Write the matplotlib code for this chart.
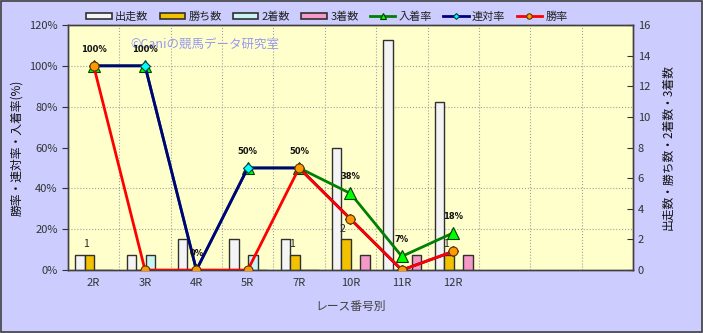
import matplotlib
matplotlib.use("Agg")
import matplotlib.pyplot as plt
from matplotlib.patches import Rectangle
import numpy as np

plt.rcParams['font.family'] = ['Noto Sans CJK JP', 'DejaVu Sans']

categories = ['2R', '3R', '4R', '5R', '7R', '10R', '11R', '12R', '', '', '']
runs = [1, 1, 2, 2, 2, 8, 15, 11]          # 出走数
wins = [1, 0, 0, 0, 1, 2, 0, 1]            # 勝ち数
second = [0, 1, 0, 1, 0, 0, 0, 0]          # 2着数
third = [0, 0, 0, 0, 0, 1, 1, 1]           # 3着数
place_rate = [100, 100, 0, 50, 50, 37.5, 6.7, 18.2]   # 入着率
quinella_rate = [100, 100, 0, 50, 50, 25, 0, 9.1]    # 連対率
win_rate = [100, 0, 0, 0, 50, 25, 0, 9.1]           # 勝率
place_labels = ['100%', '100%', '0%', '50%', '50%', '38%', '7%', '18%']

fig = plt.figure(figsize=(7.03, 3.33), dpi=100, facecolor='#CCCCFF')
fig.patches.append(Rectangle((0.0015, 0.003), 0.997, 0.994, transform=fig.transFigure,
                             fill=False, edgecolor='#404040', linewidth=1.2))

ax2 = fig.add_axes([0.0967, 0.189, 0.8037, 0.736])
ax = ax2.twinx()
ax.yaxis.tick_left()
ax.yaxis.set_label_position('left')
ax2.yaxis.tick_right()
ax2.yaxis.set_label_position('right')
ax.set_zorder(ax2.get_zorder() + 1)
ax.patch.set_visible(False)
ax2.set_facecolor('#FFFFCC')

n = len(runs)
x = np.arange(n)
w = 0.185
bar_specs = [(runs, '#F4F4F4', '出走数'), (wins, '#F2C200', '勝ち数'),
             (second, '#C8F4F4', '2着数'), (third, '#F59AC8', '3着数')]
handles = []
for i, (vals, col, lab) in enumerate(bar_specs):
    off = (i - 1.5) * w + 0.01
    ax2.bar(x + off, vals, width=w, color=col, edgecolor='#303030', linewidth=1.0,
            zorder=3)
    handles.append(Rectangle((0, 0), 1, 1, facecolor=col, edgecolor='#303030', linewidth=1.2, label=lab))

for xi, v in zip(x, wins):
    if v > 0:
        ax2.annotate(str(v), (xi - 0.5 * w, v), xytext=(-2, 4), textcoords='offset points',
                     ha='center', va='bottom', fontsize=7.5, color='#222222')

l1, = ax.plot(x, place_rate, color='#008000', lw=2, marker='^', ms=8,
              mfc='#00FF00', mec='#004000', mew=0.8, label='入着率', zorder=4)
l2, = ax.plot(x, quinella_rate, color='#000080', lw=2, marker='D', ms=5,
              mfc='#00FFFF', mec='#004040', mew=0.8, label='連対率', zorder=5)
l3, = ax.plot(x, win_rate, color='#FF0000', lw=2, marker='o', ms=6.5,
              mfc='#FF9900', mec='#603000', mew=0.8, label='勝率', zorder=6)
for xi, v, t in zip(x, place_rate, place_labels):
    ax.annotate(t, (xi, v), xytext=(0, 12), textcoords='offset points', ha='center',
                va='center', fontsize=6, fontweight='bold', color='#111111',
                family='DejaVu Sans', zorder=7)

ax.set_xlim(-0.5, len(categories) - 0.5)
ax.set_ylim(0, 120)
ax2.set_ylim(0, 16)
ax.set_yticks(np.arange(0, 121, 20))
ax.set_yticklabels([f'{v}%' for v in range(0, 121, 20)])
ax2.set_yticks(np.arange(0, 17, 2))
ax2.set_xticks(np.arange(len(categories)))
ax2.set_xticklabels(categories)
ax2.set_xticks(np.arange(0.5, len(categories) - 0.5, 1), minor=True)
ax2.set_yticks([v * 16 / 120 for v in range(20, 120, 20)], minor=True)
ax2.tick_params(axis='x', which='both', length=0, labelsize=8, colors='#333333', pad=6)
ax2.tick_params(axis='y', which='minor', length=0)
ax2.tick_params(axis='y', which='major', labelsize=8, colors='#333333', length=4, direction='in')
ax.tick_params(axis='y', labelsize=8, colors='#333333', length=4)
ax2.grid(True, which='minor', color='#A0A0A0', linestyle=':', linewidth=0.8, zorder=0)
ax2.set_axisbelow(True)
for a in (ax, ax2):
    for s in a.spines.values():
        s.set_color('#404040')
        s.set_linewidth(1.0)

ax.set_ylabel('勝率・連対率・入着率(%)', fontsize=8.5, color='#111111', labelpad=4)
ax2.set_ylabel('出走数・勝ち数・2着数・3着数', fontsize=8.5, color='#111111', labelpad=8)
ax2.set_xlabel('レース番号別', fontsize=8.5, color='#444444', labelpad=8)

ax.text(0.11, 0.92, '©Caniの競馬データ研究室', transform=ax.transAxes, fontsize=9,
        color='#9999EE', ha='left', va='center', zorder=1)

handles += [l1, l2, l3]
fig.legend(handles=handles, loc='center', bbox_to_anchor=(0.465, 0.95), ncol=7,
           frameon=False, fontsize=8, handlelength=2.3, handleheight=0.45,
           handletextpad=0.3, columnspacing=1.0, labelcolor='#222222', markerscale=0.6)

fig.savefig('out.png', dpi=100, facecolor=fig.get_facecolor())
